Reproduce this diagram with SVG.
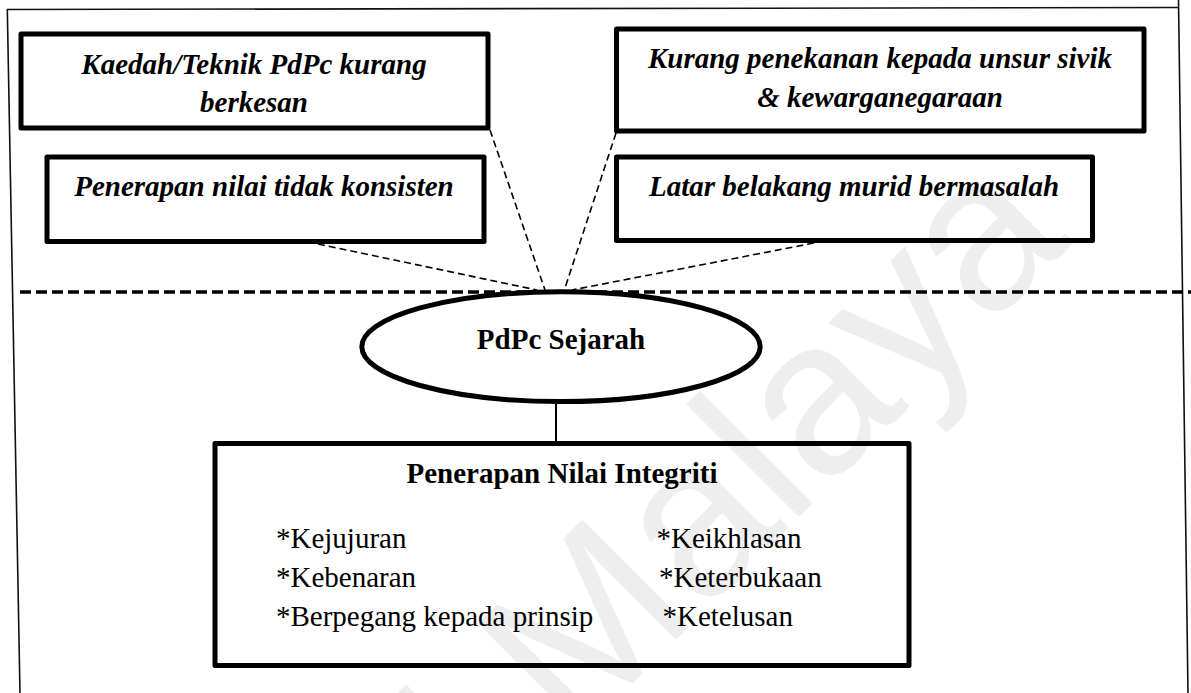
<svg xmlns="http://www.w3.org/2000/svg" width="1191" height="693" viewBox="0 0 1191 693">
  <style>
    .frame { fill: none; stroke: #111; stroke-width: 1.6; }
    .box { fill: none; stroke: #000; stroke-width: 5; stroke-linejoin: round; }
    .bi { font-family: "Liberation Serif", "Times New Roman", serif; font-size: 29px; font-weight: bold; font-style: italic; fill: #000; text-anchor: middle; }
    .b { font-family: "Liberation Serif", "Times New Roman", serif; font-size: 29px; font-weight: bold; fill: #000; text-anchor: middle; }
    .r { font-family: "Liberation Serif", "Times New Roman", serif; font-size: 29px; fill: #000; }
    .dash { fill: none; stroke: #000; stroke-width: 1.6; stroke-dasharray: 7 4; }
    .wm { font-family: "Liberation Sans", Arial, sans-serif; font-size: 220px; fill: #eeeeee; text-anchor: end; }
  </style>
  <rect x="0" y="0" width="1191" height="693" fill="#fff"/>
  <text class="wm" transform="translate(1074,242) rotate(-45)">Universiti Malaya</text>

  <g id="frame">
    <line class="frame" x1="7" y1="9.5" x2="1178.5" y2="7.5"/>
    <line class="frame" x1="7.3" y1="9" x2="20" y2="693"/>
    <line class="frame" x1="1178.5" y1="0" x2="1188" y2="693"/>
    <line x1="20" y1="292" x2="1191" y2="292" stroke="#000" stroke-width="3.5" stroke-dasharray="11 5"/>
  </g>

  <g id="connectors">
    <line class="dash" x1="490" y1="130" x2="545" y2="290"/>
    <line class="dash" x1="318" y1="244" x2="537" y2="290"/>
    <line class="dash" x1="616" y1="133" x2="565" y2="288"/>
    <line class="dash" x1="814" y1="243" x2="572" y2="290"/>
    <line x1="556" y1="404" x2="556" y2="441" stroke="#000" stroke-width="2"/>
  </g>

  <g id="node-kaedah">
    <rect class="box" x="21" y="34" width="467" height="94"/>
    <text class="bi" x="254" y="74">Kaedah/Teknik PdPc kurang</text>
    <text class="bi" x="254" y="112">berkesan</text>
  </g>

  <g id="node-penerapan-nilai">
    <rect class="box" x="47" y="157" width="437" height="84.5"/>
    <text class="bi" x="264" y="196">Penerapan nilai tidak konsisten</text>
  </g>

  <g id="node-kurang-penekanan">
    <rect class="box" x="616.5" y="29" width="527.5" height="102"/>
    <text class="bi" x="880" y="68">Kurang penekanan kepada unsur sivik</text>
    <text class="bi" x="880" y="107">&amp; kewarganegaraan</text>
  </g>

  <g id="node-latar-belakang">
    <rect class="box" x="616.5" y="157" width="476" height="83.5"/>
    <text class="bi" x="854" y="196">Latar belakang murid bermasalah</text>
  </g>

  <g id="node-pdpc-sejarah">
    <ellipse cx="561" cy="346.7" rx="199.2" ry="54.9" fill="none" stroke="#000" stroke-width="5"/>
    <text class="b" x="561" y="349">PdPc Sejarah</text>
  </g>

  <g id="node-integriti">
    <rect class="box" x="215" y="443.5" width="694" height="222"/>
    <text class="b" x="562" y="483">Penerapan Nilai Integriti</text>
    <text class="r" x="276" y="548">*Kejujuran</text>
    <text class="r" x="276" y="587">*Kebenaran</text>
    <text class="r" x="276" y="626">*Berpegang kepada prinsip</text>
    <text class="r" x="656.5" y="548">*Keikhlasan</text>
    <text class="r" x="659" y="587">*Keterbukaan</text>
    <text class="r" x="662.5" y="626">*Ketelusan</text>
  </g>
</svg>
